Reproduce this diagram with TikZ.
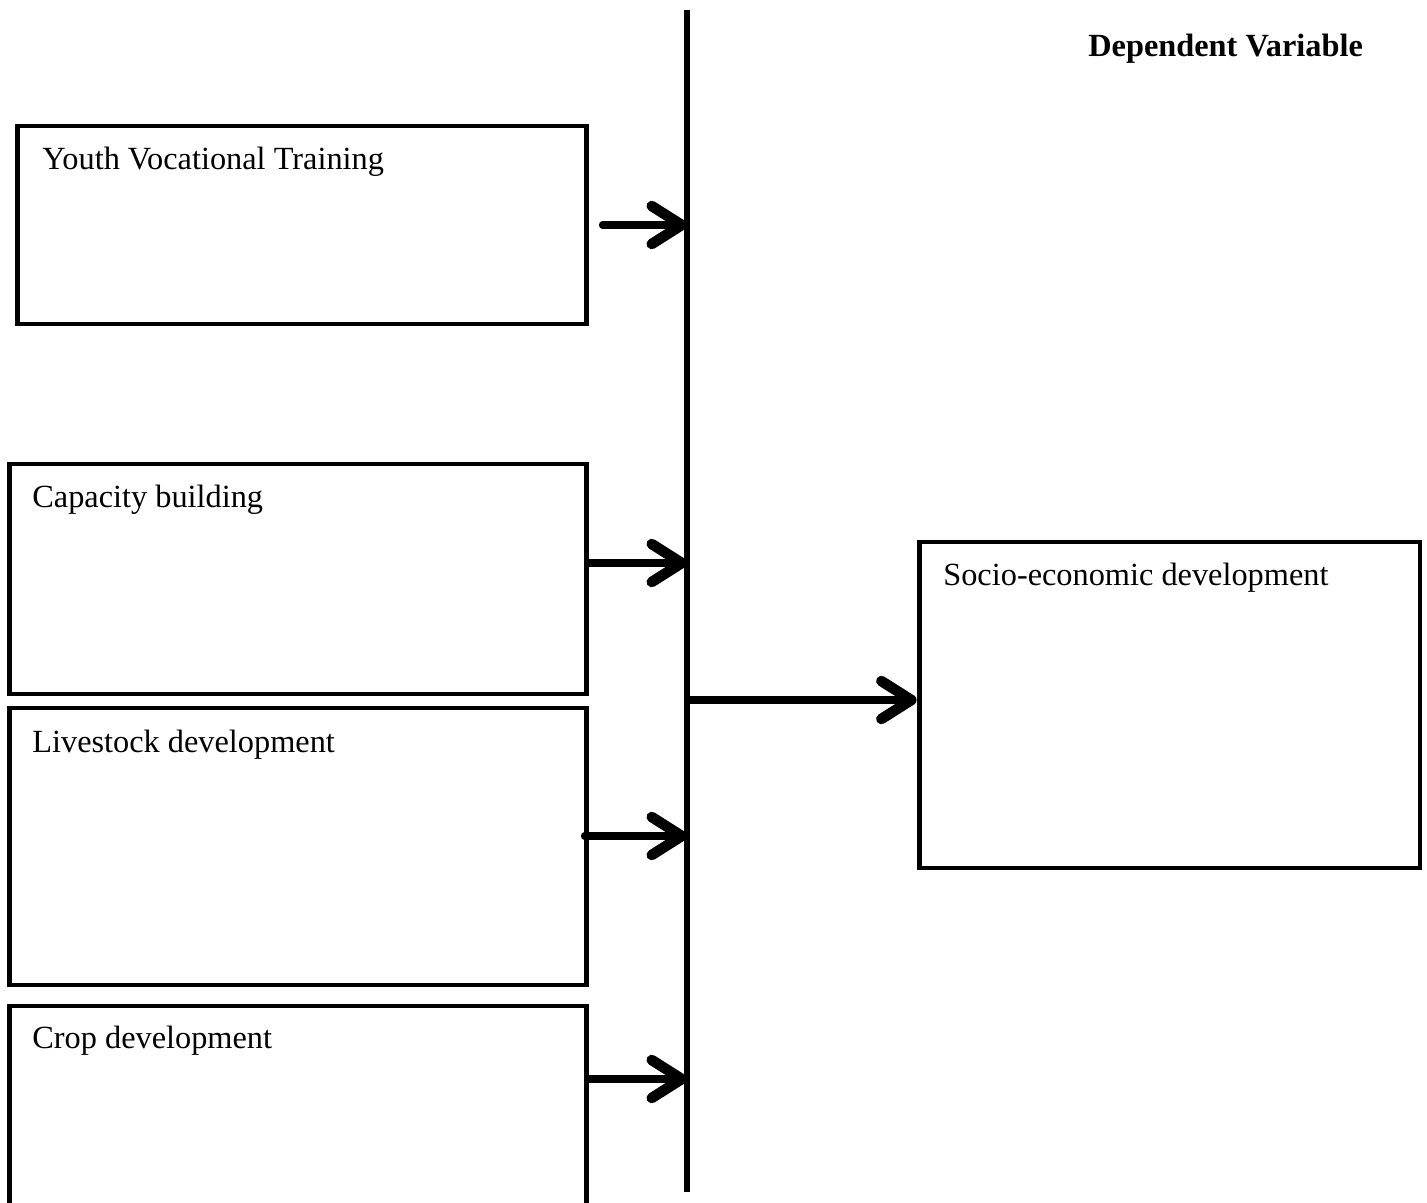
\documentclass[tikz,border=0pt]{standalone}
\usepackage{fontspec}
\setmainfont{Liberation Serif}
\usepackage{tikz}
\usetikzlibrary{arrows.meta, positioning}

\begin{document}
\begin{tikzpicture}[x=0.02cm, y=-0.02cm,
    box/.style={rectangle, draw, line width=2.8pt, inner sep=0pt},
    txt/.style={anchor=base west, inner sep=0pt, font=\fontsize{18.4}{22}\selectfont},
    arrow/.style={-{Straight Barb[length=0.6cm, width=0.76cm, round, line width=6pt]}, line width=4pt, line cap=round}
]

\clip (0,0) rectangle (1427,1203);

% independent variables
\node[box, minimum width=11.4cm, minimum height=3.96cm] (yvt) at (302,225) {};
\node[box, minimum width=11.56cm, minimum height=4.6cm] (cap) at (298,579) {};
\node[box, minimum width=11.56cm, minimum height=5.54cm] (live) at (298,846.5) {};
\node[box, minimum width=11.56cm, minimum height=5.08cm] (crop) at (298,1133) {};

\node[txt] at (42,170) {Youth Vocational Training};
\node[txt] at (32,507) {Capacity building};
\node[txt] at (32,752) {Livestock development};
\node[txt] at (32,1048) {Crop development};

% dependent variable
\node[box, minimum width=10.02cm, minimum height=6.52cm] (sed) at (1169.5,705) {};
\node[txt] at (943,585) {Socio-economic development};
\node[txt, font=\fontsize{18.4}{22}\selectfont\bfseries] (dv) at (1088,57) {Dependent Variable};

% bus line
\coordinate (top) at (687,10);
\coordinate (bot) at (687,1192);
\draw[line width=3.4pt] (top) -- (bot);

\coordinate (b1) at (687,225);
\coordinate (b2) at (687,563);
\coordinate (b3) at (687,836);
\coordinate (b4) at (687,1079);
\coordinate (b5) at (689,700);

\draw[arrow] ([xshift=0.26cm]yvt.east |- b1) -- (b1);
\draw[arrow] (cap.east |- b2) -- (b2);
\draw[arrow] ([xshift=-0.1cm]live.east |- b3) -- (b3);
\draw[arrow] (crop.east |- b4) -- (b4);
\draw[arrow] (b5) -- (sed.west |- b5);

\end{tikzpicture}
\end{document}
